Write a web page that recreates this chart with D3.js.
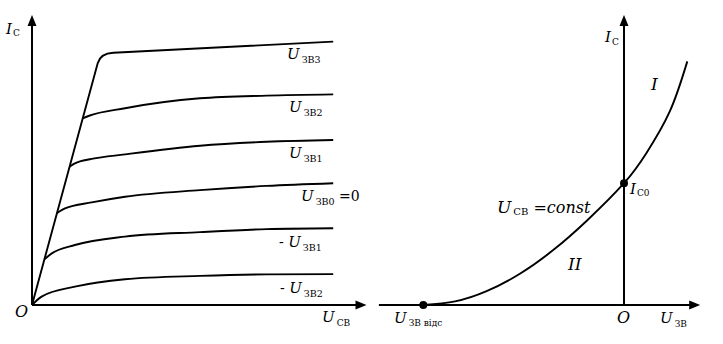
<!DOCTYPE html>
<html><head><meta charset="utf-8">
<script src="https://cdn.jsdelivr.net/npm/d3@7"></script>
<style>html,body{margin:0;padding:0;background:#fff;} svg{display:block;}</style>
</head><body>
<svg id="chart" width="723" height="344"></svg>
<script>
// ---------- DATA ----------
// Left panel: output characteristics I_С(U_СВ) for several gate voltages
const curveNames = ["ЗВ3", "ЗВ2", "ЗВ1", "ЗВ0", "ЗВ1", "ЗВ2"];
const curveSigns = ["", "", "", "", "- ", "- "];
const curveSuffix = ["", "", "", " =0", "", ""];
// top curve: origin, corner start, corner vertex, corner end, end
const curveTop = [[0, 0], [21.9, 80.6], [22.8, 83.9], [27.1, 84.1], [100.4, 87.8]];
const curveZB2 = [[16.9, 62.2], [18.8, 63.0], [31.0, 65.6], [56.0, 68.9], [78.2, 69.8], [100.4, 70.2]];
const curveZB1 = [[12.5, 46.1], [14.3, 47.2], [19.9, 48.7], [31.0, 50.2], [56.0, 53.1], [78.2, 54.4], [100.4, 55.0]];
const curveZB0 = [[8.3, 30.6], [11.0, 32.2], [19.9, 34.2], [31.0, 36.1], [56.0, 38.3], [78.2, 39.7], [100.4, 40.6]];
const curveNegZB1 = [[4.1, 15.2], [6.6, 17.2], [14.3, 20.0], [31.0, 22.8], [56.0, 24.3], [78.2, 25.3], [100.4, 25.6]];
const curveNegZB2 = [[0, 0], [3.2, 2.8], [14.3, 6.1], [31.0, 8.6], [56.0, 9.7], [78.2, 10.2], [100.4, 10.3]];

// Right panel: transfer characteristic I_С(U_ЗВ) at U_СВ = const
const transferU = [-66.9, -56.3, -45.8, -34.7, -23.6, -12.4, 0, 7.5, 15.3, 21.1];
const transferI = [0, 1.2, 4.6, 10.4, 18.3, 28.1, 40.6, 50.7, 64.6, 81.2];
const cutoffU = -66.9;   // U_ЗВ відс
const ic0 = 40.6;        // I_С0

// ---------- DRAWING ----------
const FONT = "'DejaVu Serif', serif";
const svg = d3.select("#chart");

const xL = d3.scaleLinear().domain([0, 100]).range([32, 332]);
const yL = d3.scaleLinear().domain([0, 100]).range([305, 5]);
const xR = d3.scaleLinear().domain([-67, 0]).range([423, 624]);
const yR = d3.scaleLinear().domain([0, 100]).range([305, 5]);

function arrow(x1, y1, x2, y2) {
  const len = 11, half = 4.5;
  const dx = x2 - x1, dy = y2 - y1, L = Math.hypot(dx, dy);
  const ux = dx / L, uy = dy / L;
  svg.append("line").attr("x1", x1).attr("y1", y1)
    .attr("x2", x2 - ux * 6).attr("y2", y2 - uy * 6)
    .attr("stroke", "#000").attr("stroke-width", 2);
  const bx = x2 - ux * len, by = y2 - uy * len;
  svg.append("path")
    .attr("d", `M${x2},${y2}L${bx - uy * half},${by + ux * half}L${bx + uy * half},${by - ux * half}Z`)
    .attr("fill", "#000");
}

// axes left
arrow(xL(0), yL(0), xL(111.5), yL(0));
arrow(xL(0), yL(0), xL(0), yL(96.7));
// axes right
arrow(xR(-81.7), yR(0), xR(25.4), yR(0));
arrow(xR(0), yR(0), xR(0), yR(96.7));

// top curve with rounded corner
const p = d3.path();
p.moveTo(xL(curveTop[0][0]), yL(curveTop[0][1]));
p.lineTo(xL(curveTop[1][0]), yL(curveTop[1][1]));
p.quadraticCurveTo(xL(curveTop[2][0]), yL(curveTop[2][1]), xL(curveTop[3][0]), yL(curveTop[3][1]));
p.lineTo(xL(curveTop[4][0]), yL(curveTop[4][1]));
svg.append("path").attr("d", p.toString()).attr("fill", "none")
  .attr("stroke", "#000").attr("stroke-width", 1.9).attr("stroke-linejoin", "round");

const lineL = d3.line().x(d => xL(d[0])).y(d => yL(d[1])).curve(d3.curveMonotoneX);
[curveZB2, curveZB1, curveZB0, curveNegZB1, curveNegZB2].forEach(c => {
  svg.append("path").attr("d", lineL(c)).attr("fill", "none")
    .attr("stroke", "#000").attr("stroke-width", 1.9);
});

// transfer curve
const lineR = d3.line().x((d, i) => xR(transferU[i])).y((d, i) => yR(transferI[i])).curve(d3.curveNatural);
svg.append("path").attr("d", lineR(transferU)).attr("fill", "none")
  .attr("stroke", "#000").attr("stroke-width", 1.9);
svg.append("circle").attr("cx", xR(cutoffU)).attr("cy", yR(0)).attr("r", 4).attr("fill", "#000");
svg.append("circle").attr("cx", xR(0)).attr("cy", yR(ic0)).attr("r", 4).attr("fill", "#000");

// ---------- LABELS ----------
function addLabel(x, y, parts) {
  const t = svg.append("text").attr("x", x).attr("y", y)
    .attr("font-family", FONT).attr("fill", "#000");
  parts.forEach(pt => {
    const s = t.append("tspan").text(pt[0]).attr("font-size", pt[1]);
    if (pt[2]) s.attr("font-style", "italic");
    if (pt[3]) s.attr("dy", pt[3]);
    if (pt[4]) s.attr("dx", pt[4]);
  });
}

// left panel
addLabel(6, 34, [["I", 15, true], ["С", 9, false, 2, 1]]);
addLabel(15, 317, [["O", 16, true]]);
addLabel(322, 322, [["U", 15, true], ["СВ", 9, false, 4, 2]]);

const labelX = [287, 289, 289, 301, 279, 280];
const ends = [curveTop, curveZB2, curveZB1, curveZB0, curveNegZB1, curveNegZB2].map(c => c[c.length - 1]);
curveNames.forEach((n, i) => {
  const parts = [];
  if (curveSigns[i]) parts.push([curveSigns[i], 14, false]);
  parts.push(["U", 15, true]);
  parts.push([n, 9.5, false, 4, 2]);
  if (curveSuffix[i]) parts.push([curveSuffix[i], 14, false, -4, 0]);
  addLabel(labelX[i], yL(ends[i][1]) + 17.5 + (i >= 4 ? 1.5 : 0), parts);
});

// right panel
addLabel(605, 42, [["I", 15, true], ["С", 9, false, 3, 1]]);
addLabel(651, 90, [["I", 17, true]]);
addLabel(630, 194, [["I", 15, true], ["С0", 9, false, 2, 1]]);
addLabel(497, 213, [["U", 17, true], ["СВ", 10, false, 2, 2], [" =", 16, false, -2, 0], ["const", 16, true]]);
addLabel(568, 270, [["II", 17, true]]);
addLabel(394, 323, [["U", 15, true], ["ЗВ відс", 9, false, 3, 2]]);
addLabel(617, 323, [["O", 16, true]]);
addLabel(660, 323, [["U", 15, true], ["ЗВ", 9, false, 4, 2]]);
</script>
</body></html>
